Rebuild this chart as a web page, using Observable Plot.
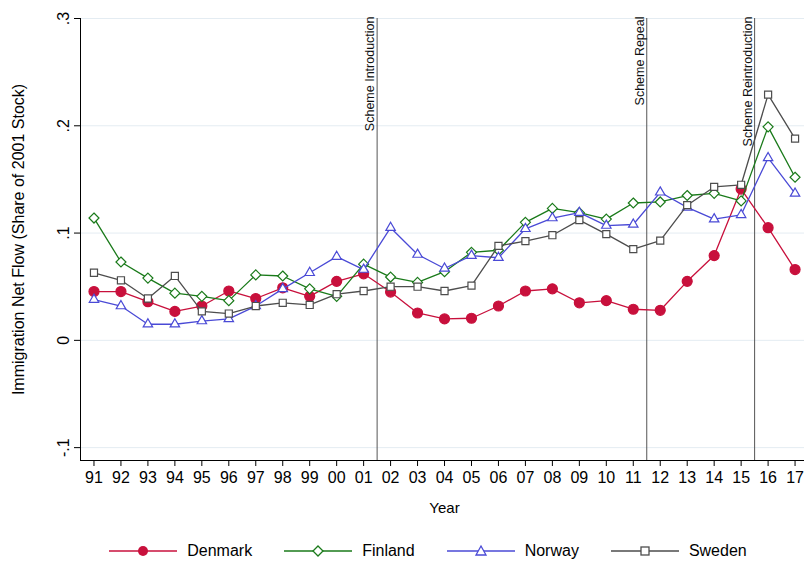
<!DOCTYPE html>
<html><head><meta charset="utf-8">
<script src="https://cdn.jsdelivr.net/npm/d3@7"></script>
<script src="https://cdn.jsdelivr.net/npm/@observablehq/plot@0.6"></script>
<style>
body{margin:0;background:#fff;font-family:"Liberation Sans",Arial,sans-serif;}
#legend{display:flex;justify-content:center;gap:32px;font-size:16px;margin-top:22px;padding-left:52px;}
#legend span{display:flex;align-items:center;gap:10px;}
</style></head><body>
<div id="chart"></div>
<div id="legend"></div>
<script>
const years = ["91","92","93","94","95","96","97","98","99","00","01","02","03","04","05","06","07","08","09","10","11","12","13","14","15","16","17"];
const denmark = [.0455,.0455,.036,.027,.032,.046,.039,.049,.041,.055,.062,.045,.0255,.020,.0206,.032,.046,.048,.035,.037,.029,.028,.055,.079,.141,.105,.066];
const finland = [.114,.073,.058,.044,.041,.037,.061,.060,.048,.041,.071,.059,.054,.064,.082,.084,.110,.123,.119,.113,.128,.129,.135,.137,.130,.199,.152];
const norway = [.038,.032,.015,.015,.018,.020,.032,.048,.063,.078,.066,.105,.080,.067,.079,.077,.104,.114,.119,.107,.108,.138,.124,.113,.117,.170,.137];
const sweden = [.063,.056,.039,.060,.027,.025,.032,.035,.033,.043,.046,.050,.050,.046,.051,.088,.0925,.098,.112,.099,.085,.093,.126,.143,.145,.229,.188];
const events = [{x: 10.5, label: "Scheme Introduction"}, {x: 20.5, label: "Scheme Repeal"}, {x: 24.5, label: "Scheme Reintroduction"}];

const series = [
  {name: "Denmark", values: denmark, color: "#c8103c", symbol: "circle", fill: true},
  {name: "Finland", values: finland, color: "#1a7a1a", symbol: "diamond2", fill: false},
  {name: "Norway", values: norway, color: "#4a4ad6", symbol: "triangle2", fill: false},
  {name: "Sweden", values: sweden, color: "#4d4d4d", symbol: "square2", fill: false}
];
const rows = series.flatMap(s => s.values.map((v, i) => ({name: s.name, i, v})));
const yfmt = v => v === 0 ? "0" : (v < 0 ? "-" : "") + "." + Math.round(Math.abs(v) * 10);

const marks = [
  Plot.gridY([-.1, 0, .1, .2, .3], {stroke: "#e4ecf2", strokeOpacity: 1}),
  Plot.ruleX(events, {x: "x", stroke: "#555"}),
  Plot.text(events, {x: "x", y: 0.3, text: "label", rotate: -90, textAnchor: "end", dx: -7, dy: -2, fontSize: 12.5, fill: "#111"})
];
for (const s of series) {
  const d = rows.filter(r => r.name === s.name);
  marks.push(Plot.line(d, {x: "i", y: "v", stroke: s.color, strokeWidth: 1.3}));
  marks.push(Plot.dot(d, {x: "i", y: "v", symbol: () => s.symbol, r: s.fill ? 5 : 4.5,
    stroke: s.color, fill: s.fill ? s.color : "white", strokeWidth: 1.2}));
}
marks.push(
  Plot.axisX({ticks: d3.range(27), tickFormat: i => years[i], tickSize: 6, tickPadding: 5, label: null}),
  Plot.axisY({ticks: [-.1, 0, .1, .2, .3], tickFormat: yfmt, tickRotate: -90, tickSize: 6, tickPadding: 6, label: null}),
  Plot.text(["Year"], {x: 13, y: -0.112, dy: 48, fontSize: 15}),
  Plot.text(["Immigration Net Flow (Share of 2001 Stock)"], {x: -0.5, y: 0.094, dx: -62, rotate: -90, fontSize: 16})
);
marks.push(Plot.ruleX([-0.5], {stroke: "#000"}), Plot.ruleY([-0.112], {stroke: "#000"}));

const chart = Plot.plot({
  width: 804, height: 520,
  marginLeft: 80, marginRight: 0, marginTop: 18, marginBottom: 60,
  style: {fontFamily: "Liberation Sans, Arial, sans-serif", fontSize: "16px", color: "#000"},
  symbol: {type: "identity"},
  x: {domain: [-0.5, 26.35]},
  y: {domain: [-0.112, 0.3]},
  marks
});
document.getElementById("chart").appendChild(chart);

const legend = document.getElementById("legend");
const shapes = {
  circle: c => `<circle cx="34" cy="8" r="5" fill="${c}"/>`,
  diamond2: c => `<path d="M34 3L39 8L34 13L29 8Z" fill="white" stroke="${c}" stroke-width="1.3"/>`,
  triangle2: c => `<path d="M34 3L39 12L29 12Z" fill="white" stroke="${c}" stroke-width="1.3"/>`,
  square2: c => `<rect x="30" y="4" width="8" height="8" fill="white" stroke="${c}" stroke-width="1.3"/>`
};
for (const s of series) {
  const el = document.createElement("span");
  el.innerHTML = `<svg width="68" height="16"><line x1="0" x2="68" y1="8" y2="8" stroke="${s.color}" stroke-width="1.3"/>${shapes[s.symbol](s.color)}</svg>${s.name}`;
  legend.appendChild(el);
}
</script></body></html>
